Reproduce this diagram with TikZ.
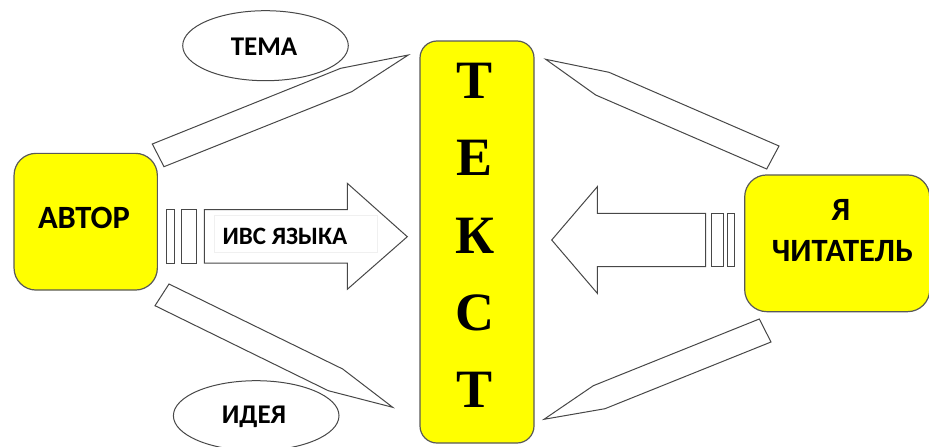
\documentclass[tikz,border=0pt]{standalone}
\usepackage{fontspec}
\usetikzlibrary{shapes.geometric}
\setmainfont{Carlito}
\newfontfamily\serifbold{Liberation Serif}
\definecolor{pureyellow}{RGB}{255,255,0}
\begin{document}
\begin{tikzpicture}[x=1pt,y=-1pt,
  outline/.style={draw=black!72,line width=1pt,line join=miter,fill=white},
  yellowbox/.style={draw=black!65,line width=1.2pt,fill=pureyellow,rounded corners=22pt,inner sep=0pt},
  oval/.style={ellipse,draw=black!72,line width=1pt,fill=white,inner sep=0pt},
  lbl/.style={font=\fontsize{32.5}{36}\selectfont\bfseries,text=black,inner sep=0pt},
  ovallbl/.style={font=\fontsize{27}{32}\selectfont\bfseries,text=black,inner sep=0pt},
  big/.style={font=\serifbold\fontsize{54}{54}\selectfont\bfseries,text=black,inner sep=0pt,anchor=center}
]
\useasboundingbox (0,0) rectangle (929,447);
\clip (0,0) rectangle (929,447);

% pencils
\draw[outline] (152.3,144) -- (340.7,68.3) -- (408.3,55) -- (351.7,91.7) -- (164,166.7) -- cycle;
\draw[outline] (169,284) -- (342.7,369) -- (392.7,407.3) -- (328.3,390.7) -- (155,305.7) -- cycle;
\draw[outline] (545.7,59.3) -- (609,72.3) -- (779,146) -- (766.7,169) -- (595.7,95) -- cycle;
\draw[outline] (544,419.3) -- (605,408.7) -- (771,342) -- (759.3,319) -- (593.3,385.7) -- cycle;

% ovals
\node[oval,minimum width=165.6pt,minimum height=70pt] (tema) at (265.5,45.7) {};
\node[ovallbl] (tematext) at (264,47) {ТЕМА};
\node[oval,minimum width=165.6pt,minimum height=70pt] (ideya) at (256.2,415.7) {};
\node[ovallbl] (ideyatext) at (254,417) {ИДЕЯ};

% boxes
\node[yellowbox,minimum width=143.3pt,minimum height=136.7pt] (avtor) at (85.7,221.7) {};
\node[lbl] (avtortext) at (84,218) {АВТОР};
\node[yellowbox,minimum width=185pt,minimum height=136.7pt] (reader) at (837.2,243.3) {};
\node[lbl] (readertext1) at (841,210) {Я};
\node[lbl] (readertext2) at (842.5,251.5) {ЧИТАТЕЛЬ};
\node[yellowbox,rounded corners=17pt,minimum width=114pt,minimum height=402pt] (text) at (477,242) {};
\node[big] (t1) at (474.7,81.3) {Т};
\node[big] (t2) at (474.5,158) {Е};
\node[big] (t3) at (475.5,236) {К};
\node[big] (t4) at (475,313) {С};
\node[big] (t5) at (474.7,389.7) {Т};

% right-pointing arrow
\draw[outline] (166.3,209.7) rectangle (174.3,263);
\draw[outline] (181.7,209.7) rectangle (196.7,263);
\draw[outline] (204.3,209.7) -- (347.3,209.7) -- (347.3,183.3) -- (407.3,236.7) -- (347.3,289.3) -- (347.3,263) -- (204.3,263) -- cycle;
\node[draw=black!6,line width=0.5pt,minimum width=163.7pt,minimum height=37.7pt,inner sep=0pt] (ivsbox) at (295.8,233.8) {};
\node[font=\fontsize{25}{30}\selectfont\bfseries,text=black,inner sep=0pt] (ivs) at (285,236.5) {ИВС ЯЗЫКА};

% left-pointing arrow
\draw[outline] (705.7,213.3) -- (597.3,213.3) -- (597.3,186.7) -- (551.7,240) -- (597.3,293.3) -- (597.3,266.7) -- (705.7,266.7) -- cycle;
\draw[outline] (711.7,213.3) rectangle (723.3,266.7);
\draw[outline] (727.7,213.3) rectangle (734.7,266.7);
\end{tikzpicture}
\end{document}
